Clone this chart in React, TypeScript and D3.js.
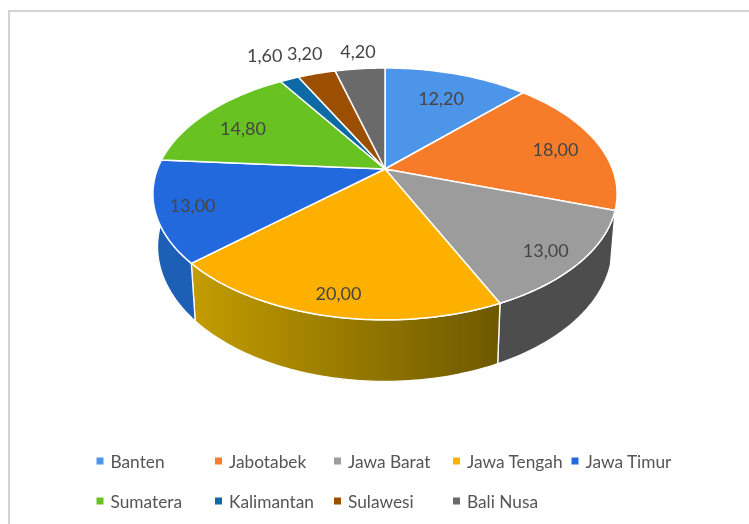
import React from "react";
import * as d3 from "d3";

const categories = ["Banten", "Jabotabek", "Jawa Barat", "Jawa Tengah", "Jawa Timur", "Sumatera", "Kalimantan", "Sulawesi", "Bali Nusa"];
const values = [12.2, 18, 13, 20, 13, 14.8, 1.6, 3.2, 4.2];
const valueLabels = ["12,20", "18,00", "13,00", "20,00", "13,00", "14,80", "1,60", "3,20", "4,20"];
const colors = ["#4e95e8", "#f67b2c", "#9c9c9c", "#fdb000", "#2469dd", "#67c223", "#0f6aa5", "#9c5006", "#6a6a6a"];
const wallColors = ["#3a70ae", "#b85c20", "#4e4e4e", "#a88a00", "#1f5fb5", "#4d9119", "#0b4f7c", "#753c04", "#4f4f4f"];
const labelRadii = [0.75, 0.8, 0.85, 0.87, 0.85, 0.78, 1.33, 1.25, 1.2];
const labelDx = [0, 0, -1, 1, 1, -1, 1, 2, 2];
const labelDy = [3, 2, 3, 0, 0, 4, 0, -1, -2];

const CX = 385, CY = 169;
const BX = 227.5, BY = 121, K = 0.198;

function project(angle: number, r: number): [number, number] {
  const X = r * Math.sin(angle);
  const Y = -r * Math.cos(angle);
  const d = 1 - K * Y;
  return [CX + (BX * X) / d, CY + (BY * Y) / d];
}
function lower(p: [number, number]): [number, number] {
  return [CX + 0.98 * (p[0] - CX), CY + 1.07 * (p[1] - CY) + 51];
}
const line = d3.line();

function rim(a0: number, a1: number): [number, number][] {
  const n = Math.max(2, Math.ceil((a1 - a0) / 0.02));
  return d3.range(n + 1).map((i) => project(a0 + ((a1 - a0) * i) / n, 1));
}

const legendXs = [96.5, 215, 334, 453, 571.5];
const legendYs = [461, 501];

export default function App() {
  const arcs = d3.pie<number>().sort(null).startAngle(0).endAngle(2 * Math.PI)(values);
  return (
    <svg width={749} height={524} style={{ position: "absolute", left: 0, top: 0, background: "#fff" }} fontFamily="Lato, sans-serif">
      <defs>
        <filter id="soft" x="-5%" y="-5%" width="110%" height="110%">
          <feGaussianBlur stdDeviation="0.4" />
        </filter>
        <filter id="softText" x="-5%" y="-5%" width="110%" height="110%">
          <feGaussianBlur stdDeviation="0.55" />
        </filter>
        <linearGradient id="goldWall" gradientUnits="userSpaceOnUse" x1={193} x2={497} y1={0} y2={0}>
          <stop offset="0" stopColor="#c39c00" />
          <stop offset="1" stopColor="#6e5900" />
        </linearGradient>
      </defs>
      <path d="M9,524V11H749" fill="none" stroke="#d4d4d4" strokeWidth={2} />
      <g filter="url(#soft)">
        {arcs.map((a, i) => {
          const top = rim(a.startAngle, a.endAngle);
          const bottom = top.map(lower).reverse();
          return (
            <path
              key={i}
              d={line([...top, ...bottom])! + "Z"}
              fill={categories[i] === "Jawa Tengah" ? "url(#goldWall)" : wallColors[i]}
              stroke="#fff"
              strokeWidth={1.3}
              strokeLinejoin="round"
            />
          );
        })}
        {arcs.map((a, i) => (
          <path
            key={i}
            d={line([[CX, CY], ...rim(a.startAngle, a.endAngle)])! + "Z"}
            fill={colors[i]}
            stroke="#fff"
            strokeWidth={1.5}
            strokeLinejoin="round"
          />
        ))}
        {categories.map((c, i) => {
          const col = i % 5;
          const row = Math.floor(i / 5);
          return <rect key={c} x={legendXs[col]} y={legendYs[row] - 3.5} width={7} height={7} fill={colors[i]} />;
        })}
      </g>
      <g filter="url(#softText)">
        {arcs.map((a, i) => {
          const [x, y] = project((a.startAngle + a.endAngle) / 2, labelRadii[i]);
          return (
            <text key={i} x={x + labelDx[i]} y={y + labelDy[i]} textAnchor="middle" dominantBaseline="central" fontSize={18} fill="#454545">
              {valueLabels[i]}
            </text>
          );
        })}
        {categories.map((c, i) => {
          const col = i % 5;
          const row = Math.floor(i / 5);
          return (
            <text key={c} x={legendXs[col] + 14} y={legendYs[row]} dominantBaseline="central" fontSize={17.3} fill="#555555">
              {c}
            </text>
          );
        })}
      </g>
    </svg>
  );
}
